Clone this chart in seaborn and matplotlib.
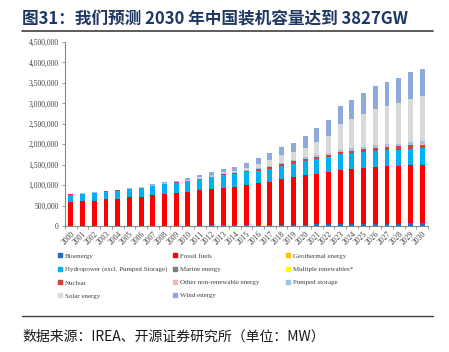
import numpy as np
import pandas as pd
import matplotlib
matplotlib.use("Agg")
import matplotlib.pyplot as plt
import seaborn as sns
from matplotlib.lines import Line2D
from matplotlib.ticker import FuncFormatter

# installed capacity by source, MW
years = list(range(2000, 2031))

bioenergy = [2000, 2000, 2500, 3000, 3500, 4000, 5000, 6000, 7000, 8000, 10000,
             12000, 14000, 16000, 18000, 20000, 23000, 26000, 29000, 32000, 35000,
             38000, 41000, 44000, 47000, 50000, 53000, 56000, 59000, 62000, 65000]
fossil = [578000, 598000, 617500, 647000, 666500, 696000, 715000, 744000, 773000, 802000, 820000,
          858000, 886000, 924000, 942000, 980000, 1017000, 1054000, 1111000, 1158000, 1205000,
          1242000, 1279000, 1336000, 1353000, 1380000, 1397000, 1404000, 1411000, 1428000, 1435000]
geothermal = [30, 30, 30, 30, 30, 30, 30, 30, 30, 30, 30,
              30, 30, 30, 30, 30, 30, 30, 30, 30, 40,
              50, 60, 70, 80, 90, 100, 110, 120, 130, 140]
hydro = [182000, 175000, 180000, 186000, 190000, 194000, 206000, 220000, 236000, 244000, 262000,
         272000, 290000, 300000, 308000, 312000, 316000, 322000, 328000, 338000, 348000,
         360000, 368000, 372000, 376000, 380000, 386000, 390000, 394000, 398000, 402000]
marine = [0, 0, 0, 0, 0, 0, 0, 0, 0, 0, 0,
          0, 0, 0, 0, 0, 0, 0, 0, 0, 5,
          5, 5, 5, 5, 5, 5, 5, 5, 5, 5]
multiple = [0, 0, 0, 0, 0, 0, 0, 0, 0, 0, 0,
            0, 0, 0, 0, 0, 0, 0, 0, 0, 0,
            0, 0, 0, 0, 0, 0, 0, 0, 0, 0]
nuclear = [12000, 12000, 13000, 14000, 14000, 15000, 15000, 16000, 16000, 17000, 18000,
           19000, 20000, 22000, 24000, 30000, 36000, 40000, 45000, 50000, 52000,
           55000, 58000, 62000, 66000, 70000, 74000, 78000, 82000, 86000, 90000]
other_nonrenew = [3000, 3000, 3000, 3000, 3000, 3000, 3000, 3000, 3000, 3000, 3000,
                  3000, 3000, 3000, 3000, 3000, 3000, 3000, 3000, 3000, 3000,
                  3000, 3000, 3000, 3000, 3000, 3000, 3000, 3000, 3000, 3000]
pumped = [6000, 6000, 6000, 7000, 8000, 10000, 12000, 14000, 16000, 18000, 20000,
          22000, 24000, 26000, 28000, 30000, 32000, 33000, 34000, 35000, 36000,
          40000, 44000, 48000, 52000, 56000, 60000, 64000, 68000, 72000, 76000]
solar = [0, 0, 0, 0, 0, 0, 0, 0, 0, 500, 1000,
         3000, 7000, 18000, 28000, 50000, 85000, 130000, 175000, 205000, 240000,
         320000, 420000, 620000, 710000, 810000, 890000, 940000, 1000000, 1060000, 1100000]
wind = [3000, 4000, 5000, 6000, 7000, 8000, 10000, 12000, 15000, 20000, 45000,
        55000, 65000, 80000, 100000, 120000, 150000, 170000, 195000, 210000, 285000,
        330000, 370000, 455000, 480000, 515000, 550000, 595000, 610000, 650000, 660000]

sources = ["Bioenergy", "Fossil fuels", "Geothermal energy",
           "Hydropower (excl. Pumped Storage)", "Marine energy", "Multiple renewables*",
           "Nuclear", "Other non-renewable energy", "Pumped storage",
           "Solar energy", "Wind energy"]
series = [bioenergy, fossil, geothermal, hydro, marine, multiple,
          nuclear, other_nonrenew, pumped, solar, wind]
colors = ["#1F6EBF", "#FF0000", "#FFC000", "#00B0F0", "#7F7F7F", "#FFFF00",
          "#D0413A", "#F4B6B6", "#9DC3E6", "#D9D9D9", "#8EA9DB"]
palette = dict(zip(sources, colors))

rows = []
for name, vals in zip(sources, series):
    for y, v in zip(years, vals):
        rows.append({"year": y, "source": name, "value": v})
df = pd.DataFrame(rows)

sns.set_theme(style="white")
plt.rcParams["font.family"] = ["Liberation Serif", "Noto Sans CJK SC"]
cjk = ["Noto Sans CJK SC", "DejaVu Sans"]

fig = plt.figure(figsize=(4.49, 3.52), dpi=100)
ax = fig.add_axes([65 / 449, 1 - 226 / 352, 363 / 449, 184 / 352])

# first hue level ends up on top of the stack, so reverse
sns.histplot(data=df, x="year", weights="value", hue="source",
             hue_order=sources[::-1], multiple="stack", discrete=True,
             shrink=0.42, palette=palette, alpha=1, linewidth=0,
             legend=False, ax=ax)

ax.set_xlim(1999.5, 2030.5)
ax.set_ylim(0, 4500000)
ax.set_yticks(np.arange(0, 4500001, 500000))
ax.yaxis.set_major_formatter(FuncFormatter(lambda v, p: f"{int(v):,}"))
ax.set_xticks(years)
ax.set_xticklabels([str(y) for y in years], rotation=45, ha="right",
                   rotation_mode="anchor", fontsize=5.5)
ax.set_xticks(np.arange(1999.5, 2031, 1.0), minor=True)
ax.tick_params(axis="x", which="major", length=0, pad=3)
ax.tick_params(axis="x", which="minor", length=2.5, width=0.6, color="#898989", bottom=True)
ax.tick_params(axis="y", length=2.5, width=0.6, color="#898989", labelsize=5.5,
               pad=2, left=True, labelcolor="#404040")
ax.tick_params(axis="x", labelcolor="#404040")
ax.set_xlabel("")
ax.set_ylabel("")
for s in ["top", "right"]:
    ax.spines[s].set_visible(False)
for s in ["left", "bottom"]:
    ax.spines[s].set_color("#898989")
    ax.spines[s].set_linewidth(0.8)

# legend, three columns laid out like the original
cols = [[0, 3, 6, 9], [1, 4, 7, 10], [2, 5, 8]]
col_x = [58, 173, 286]
for idx, x0 in zip(cols, col_x):
    handles = [Line2D([], [], marker="s", linestyle="", markersize=3,
                      color=colors[i]) for i in idx]
    labels = [sources[i] for i in idx]
    fig.legend(handles, labels, loc="upper left",
               bbox_to_anchor=(x0 / 449, 1 - 253 / 352), frameon=False,
               fontsize=5.0, handlelength=0.7, handletextpad=0.3,
               labelspacing=1.05, borderpad=0, borderaxespad=0,
               labelcolor="#404040")

fig.text(22 / 449, 1 - 20 / 352, "图31：我们预测 2030 年中国装机容量达到 3827GW",
         fontsize=12, weight="bold", color="#1F3864", va="center", ha="left",
         family=cjk)
fig.add_artist(Line2D([22 / 449, 433 / 449], [1 - 31 / 352] * 2, color="#404040",
                      lw=1.2, transform=fig.transFigure))
fig.add_artist(Line2D([22 / 449, 433 / 449], [1 - 316 / 352] * 2, color="#404040",
                      lw=1.0, transform=fig.transFigure))
fig.text(22 / 449, 1 - 337 / 352, "数据来源：IREA、开源证券研究所（单位：MW）",
         fontsize=10, color="#1a1a1a", va="center", ha="left", family=cjk)

fig.savefig("out.png", dpi=100)
